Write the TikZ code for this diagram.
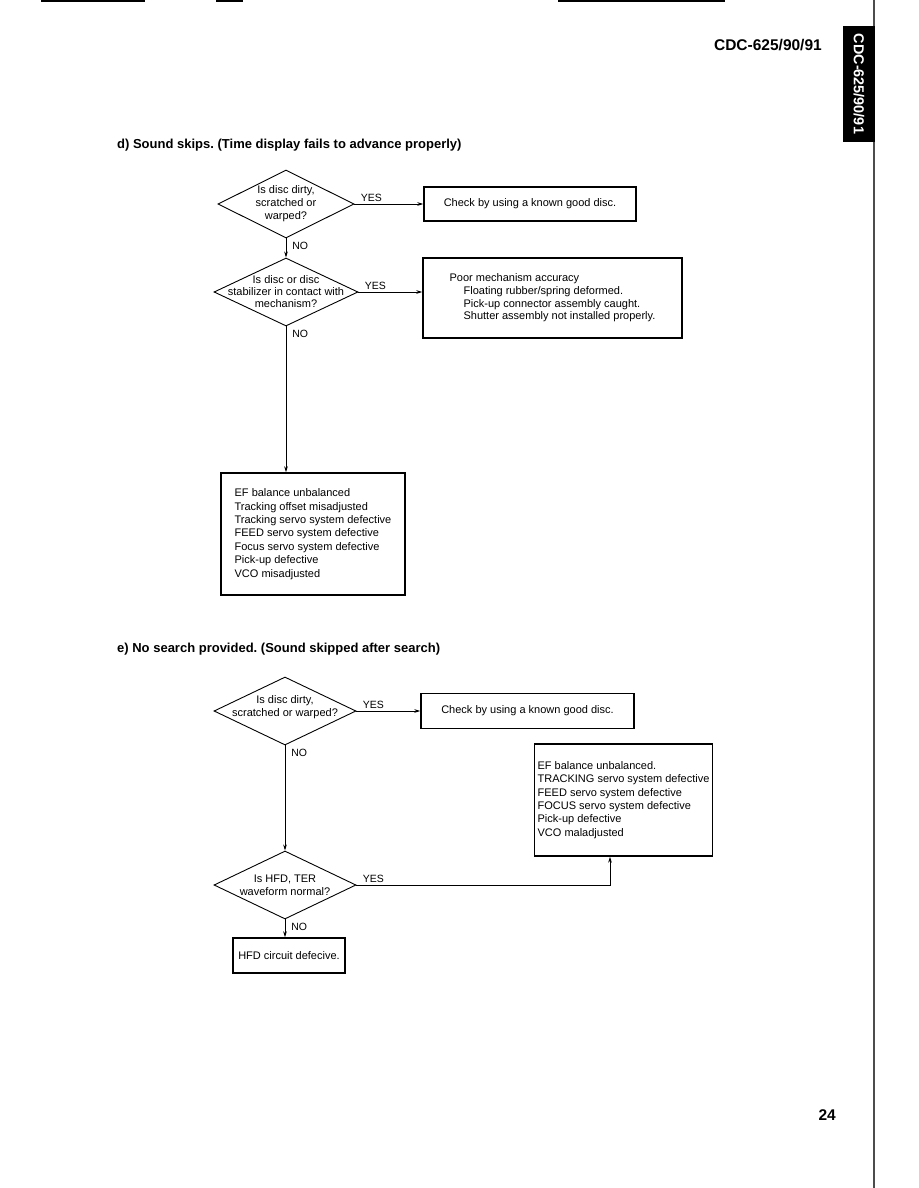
\documentclass[tikz,border=0pt]{standalone}
\usepackage{fontspec}
\setmainfont{Liberation Sans}
\frenchspacing
\usetikzlibrary{shapes.geometric,arrows.meta}
\tikzset{>={Stealth[length=6pt,width=3.6pt]}}
\tikzset{
  decision/.style={draw,diamond,inner sep=0pt,line width=0.9pt,
    minimum width=140pt,minimum height=68pt},
  qtext/.style={align=center,font=\fontsize{11}{13}\selectfont},
  answer/.style={draw,line width=1.4pt,align=left,
    font=\fontsize{11}{13.4}\selectfont},
  yeslbl/.style={anchor=south west,inner sep=0pt,xshift=6pt,yshift=2pt,
    font=\fontsize{10.5}{12}\selectfont},
  nolbl/.style={anchor=north west,inner sep=0pt,xshift=6pt,yshift=-3pt,
    font=\fontsize{10.5}{12}\selectfont},
  flow/.style={->,line width=0.8pt},
  heading/.style={anchor=west,inner sep=0pt,font=\fontsize{13}{15}\selectfont\bfseries}
}

\begin{document}
\begin{tikzpicture}[x=1pt,y=-1pt]
\useasboundingbox (0,0) rectangle (918,1188);
\fill[white] (0,0) rectangle (918,1188);

\draw[line width=2.5pt] (41,1) -- (145,1);
\draw[line width=2.5pt] (216,1) -- (243,1);
\draw[line width=2.5pt] (558,1) -- (725,1);
\draw[line width=1.2pt,black!70] (874,0) -- (874,1188);
\fill[black] (843,26) rectangle (875,142);
\node[white,rotate=-90,font=\fontsize{14.4}{16}\selectfont\bfseries] (tab) at (859,84) {CDC-625/90/91};
\node[anchor=east,inner sep=0pt,font=\fontsize{15.5}{17}\selectfont\bfseries] (model) at (822,45) {CDC-625/90/91};
\node[anchor=east,inner sep=0pt,font=\fontsize{15.5}{17}\selectfont\bfseries] (page) at (836,1115) {24};

\node[heading] (titled) at (117,145) {d) Sound skips. (Time display fails to advance properly)};

\node[decision,minimum width=136pt,label={[qtext]center:{Is disc dirty,\\scratched or\\warped?}}] (q1) at (286,204) {};
\node[answer,minimum width=212pt,minimum height=34pt,align=center] (chk1) at (530,204) {Check by using a known good disc.};
\node[decision,minimum width=144pt,label={[qtext,font=\fontsize{11}{12}\selectfont]center:{Is disc or disc\\stabilizer in contact with\\mechanism?}}] (q2) at (286,292) {};
\node[answer,minimum width=259pt,minimum height=80pt,font=\fontsize{11}{12.7}\selectfont] (chk2) at (552.5,298) {Poor mechanism accuracy\\
\hspace*{14pt}Floating rubber/spring deformed.\\
\hspace*{14pt}Pick-up connector assembly caught.\\
\hspace*{14pt}Shutter assembly not installed properly.};
\node[answer,minimum width=184pt,minimum height=122pt] (fault1) at (313,534) {EF balance unbalanced\\
Tracking offset misadjusted\\
Tracking servo system defective\\
FEED servo system defective\\
Focus servo system defective\\
Pick-up defective\\
VCO misadjusted};

\draw[flow] (q1.east) -- (q1.east -| chk1.west) node[yeslbl,pos=0] {YES};
\draw[flow] (q1.south) -- (q2.north) node[nolbl,pos=0] {NO};
\draw[flow] (q2.east) -- (q2.east -| chk2.west) node[yeslbl,pos=0] {YES};
\draw[flow] (q2.south) -- (q2.south |- fault1.north) node[nolbl,pos=0] {NO};

\node[heading] (titlee) at (117,649) {e) No search provided. (Sound skipped after search)};

\node[decision,minimum width=142pt,label={[qtext,yshift=4pt]center:{Is disc dirty,\\scratched or warped?}}] (q3) at (285,711) {};
\node[answer,minimum width=213pt,minimum height=35pt,align=center] (chk3) at (527.5,711) {Check by using a known good disc.};
\node[decision,minimum width=142pt,label={[qtext]center:{Is HFD, TER\\waveform normal?}}] (q4) at (285,885) {};
\node[answer,minimum width=177pt,minimum height=112pt] (fault2) at (623.5,800) {EF balance unbalanced.\\
TRACKING servo system defective\\
FEED servo system defective\\
FOCUS servo system defective\\
Pick-up defective\\
VCO maladjusted};
\node[answer,minimum width=112pt,minimum height=35pt,align=center] (hfd) at (289,955.5) {HFD circuit defecive.};

\draw[flow] (q3.east) -- (q3.east -| chk3.west) node[yeslbl,pos=0] {YES};
\draw[flow] (q3.south) -- (q4.north) node[nolbl,pos=0] {NO};
\draw[flow] (q4.east) -| ([xshift=-13.5pt]fault2.south) node[yeslbl,pos=0] {YES};
\draw[flow] (q4.south) -- (q4.south |- hfd.north) node[nolbl,pos=0] {NO};
\end{tikzpicture}
\end{document}
